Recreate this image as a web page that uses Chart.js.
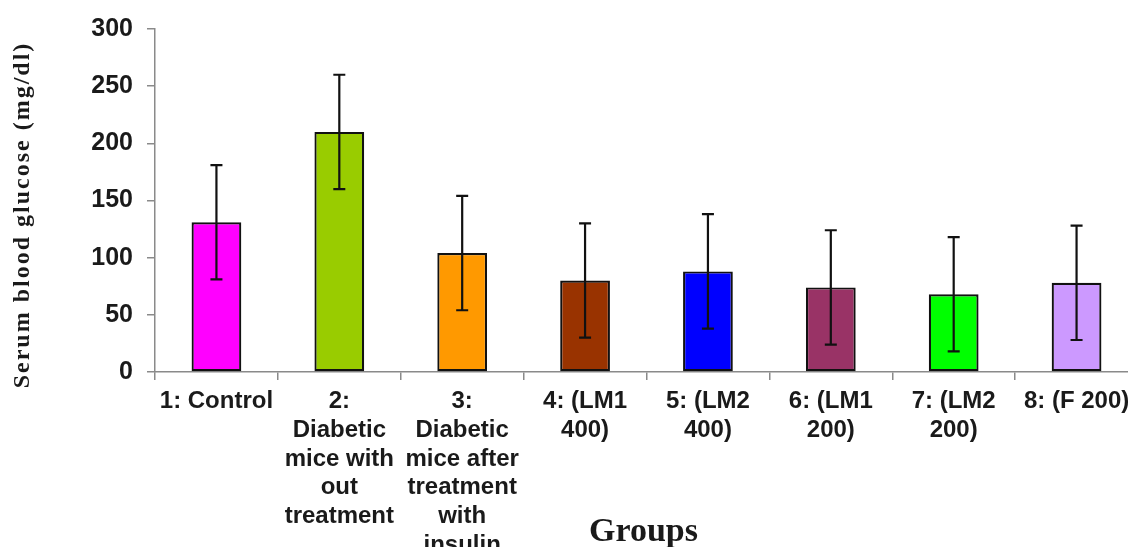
<!DOCTYPE html>
<html>
<head>
<meta charset="utf-8">
<title>Serum blood glucose by group</title>
<script src="https://cdn.jsdelivr.net/npm/chart.js@4/dist/chart.umd.min.js"></script>
<style>
  html, body { margin: 0; padding: 0; background: #ffffff; overflow: hidden; }
  #wrap { width: 1145px; height: 560px; }
</style>
</head>
<body>
<div id="wrap"><canvas id="chart" width="1145" height="560"></canvas></div>
<script>
// Group labels (one array entry per line of text)
const groupLabels = [
  ["1: Control"],
  ["2:", "Diabetic", "mice with", "out", "treatment"],
  ["3:", "Diabetic", "mice after", "treatment", "with", "insulin"],
  ["4: (LM1", "400)"],
  ["5: (LM2", "400)"],
  ["6: (LM1", "200)"],
  ["7: (LM2", "200)"],
  ["8: (F 200)"]
];

// Mean serum blood glucose (mg/dl) and its spread for each group
const glucoseMean = [131, 210, 104, 80, 88, 74, 68, 78];
const glucoseError = [50, 50, 50, 50, 50, 50, 50, 50];

const barColors = ["#FF00FF", "#99CC00", "#FF9900", "#993300", "#0000FF", "#993366", "#00FF00", "#CC99FF"];

// y-axis ticks
const yTicks = [0, 50, 100, 150, 200, 250, 300];

const yTitle = "Serum blood glucose (mg/dl)";
const xTitle = "Groups";

const axisGrey = "#8a8a8a";
const textDark = "#1a1a1a";

// Draws the error bars over each bar, using the chart's own scales
const errorBars = {
  id: "errorBars",
  afterDatasetsDraw(chart) {
    const ctx = chart.ctx;
    const meta = chart.getDatasetMeta(0);
    const yScale = chart.scales.y;
    ctx.save();
    ctx.strokeStyle = "#111111";
    ctx.lineWidth = 2.2;
    meta.data.forEach((bar, i) => {
      const top = yScale.getPixelForValue(glucoseMean[i] + glucoseError[i]);
      const bottom = yScale.getPixelForValue(glucoseMean[i] - glucoseError[i]);
      const x = bar.x;
      const cap = 6;
      ctx.beginPath();
      ctx.moveTo(x, top);
      ctx.lineTo(x, bottom);
      ctx.moveTo(x - cap, top);
      ctx.lineTo(x + cap, top);
      ctx.moveTo(x - cap, bottom);
      ctx.lineTo(x + cap, bottom);
      ctx.stroke();
    });
    ctx.restore();
  }
};

// Axis titles in a bold serif face
const axisTitles = {
  id: "axisTitles",
  afterDraw(chart) {
    const ctx = chart.ctx;
    const area = chart.chartArea;
    ctx.save();
    ctx.fillStyle = textDark;
    ctx.textAlign = "center";

    // vertical title
    ctx.save();
    ctx.translate(23, 215);
    ctx.rotate(-Math.PI / 2);
    ctx.font = 'bold 24px "Liberation Serif", "DejaVu Serif", serif';
    if ("letterSpacing" in ctx) ctx.letterSpacing = "2px";
    ctx.textBaseline = "middle";
    ctx.fillText(yTitle, 0, 0);
    ctx.restore();

    // horizontal title
    ctx.font = 'bold 34px "Liberation Serif", "DejaVu Serif", serif';
    ctx.textBaseline = "alphabetic";
    ctx.fillText(xTitle, area.left + (area.right - area.left) / 2 - 3, 541);
    ctx.restore();
  }
};

new Chart(document.getElementById("chart"), {
  type: "bar",
  data: {
    labels: groupLabels,
    datasets: [{
      data: glucoseMean,
      backgroundColor: barColors,
      borderColor: "#111111",
      borderWidth: 2.2,
      borderSkipped: false,
      categoryPercentage: 1.0,
      barPercentage: 0.405
    }]
  },
  options: {
    responsive: false,
    animation: false,
    layout: { padding: { left: 0, top: 27, right: 7, bottom: 0 } },
    plugins: {
      legend: { display: false },
      tooltip: { enabled: false },
      title: { display: false }
    },
    scales: {
      x: {
        grid: {
          offset: true,
          drawOnChartArea: false,
          drawTicks: true,
          tickLength: 8,
          color: axisGrey,
          lineWidth: 1.5
        },
        border: { display: true, color: axisGrey, width: 1.5 },
        ticks: {
          autoSkip: false,
          maxRotation: 0,
          minRotation: 0,
          padding: 7,
          color: textDark,
          font: { family: '"Liberation Sans", Arial, sans-serif', size: 24, weight: "bold", lineHeight: 1.2 }
        },
        afterFit(scale) { scale.height = 560 - 372; }
      },
      y: {
        min: 0,
        max: 300,
        afterBuildTicks(scale) { scale.ticks = yTicks.map(v => ({ value: v })); },
        grid: {
          drawOnChartArea: false,
          drawTicks: true,
          tickLength: 8,
          color: axisGrey,
          lineWidth: 1.5
        },
        border: { display: true, color: axisGrey, width: 1.5 },
        ticks: {
          padding: 14,
          color: textDark,
          font: { family: '"Liberation Sans", Arial, sans-serif', size: 25, weight: "bold" }
        },
        afterFit(scale) { scale.width = 155; }
      }
    }
  },
  plugins: [errorBars, axisTitles]
});
</script>
</body>
</html>
